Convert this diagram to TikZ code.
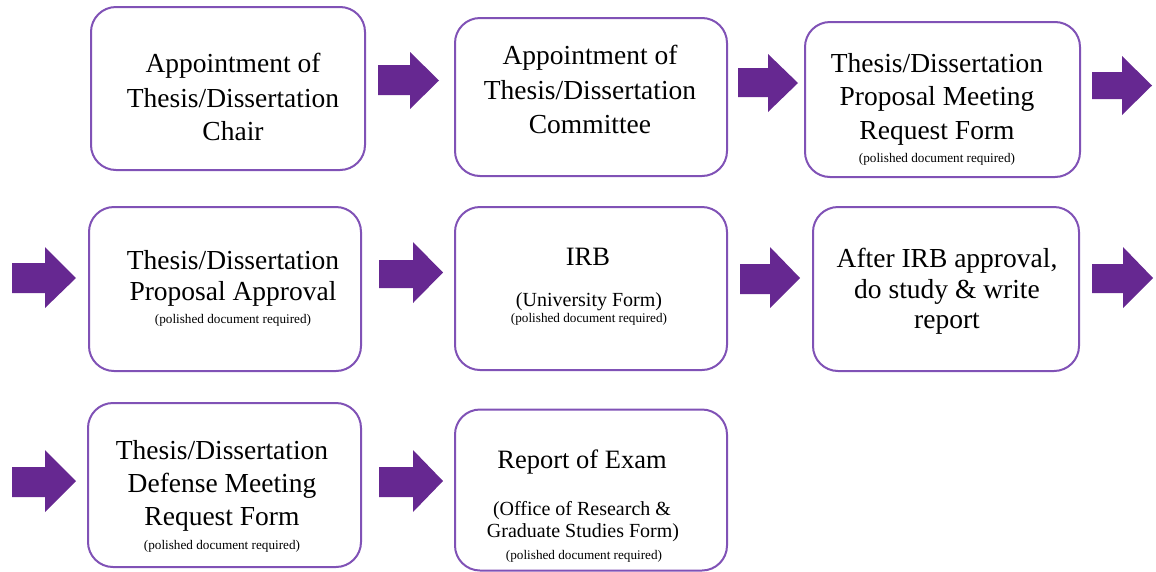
\documentclass[tikz,border=0pt]{standalone}
\usepackage{fontspec}
\setmainfont{Liberation Serif}
\definecolor{arrowpurple}{RGB}{102,40,145}
\definecolor{boxpurple}{RGB}{128,82,182}
\tikzset{
  box/.style={draw=boxpurple, line width=2pt, rounded corners=25pt, fill=white,
    inner sep=0pt, minimum width=#1},
  barrow/.style={fill=arrowpurple, draw=none},
  big/.style={anchor=base, inner sep=0pt, font=\fontsize{27.5}{33}\selectfont},
  mid/.style={anchor=base, inner sep=0pt, font=\fontsize{20}{24}\selectfont},
  tiny/.style={anchor=base, inner sep=0pt, font=\fontsize{13.2}{15}\selectfont},
}
\begin{document}
\begin{tikzpicture}[x=1pt,y=-1pt]
\useasboundingbox (0,0) rectangle (1156,571);
% boxes
\node[box=274pt, minimum height=163pt] (b1) at (228,88.5) {};
\node[box=272pt, minimum height=158pt] (b2) at (591,97) {};
\node[box=275pt, minimum height=155pt] (b3) at (942.5,99.5) {};
\node[box=272pt, minimum height=164pt] (b4) at (225,289) {};
\node[box=272pt, minimum height=163pt] (b5) at (591,288.5) {};
\node[box=266pt, minimum height=164pt] (b6) at (946,289) {};
\node[box=273pt, minimum height=164pt] (b7) at (224.5,485) {};
\node[box=272pt, minimum height=161pt] (b8) at (591,490) {};
% texts box 1
\node[big] (t1a) at (233,72) {Appointment of};
\node[big] (t1b) at (233,107) {Thesis/Dissertation};
\node[big] (t1c) at (233,140) {Chair};
% box 2
\node[big] (t2a) at (590,64) {Appointment of};
\node[big] (t2b) at (590,99) {Thesis/Dissertation};
\node[big] (t2c) at (590,133) {Committee};
% box 3
\node[big] (t3a) at (937,72) {Thesis/Dissertation};
\node[big] (t3b) at (937,105) {Proposal Meeting};
\node[big] (t3c) at (937,139) {Request Form};
\node[tiny] (t3d) at (937,162) {(polished document required)};
% box 4
\node[big] (t4a) at (233,269) {Thesis/Dissertation};
\node[big] (t4b) at (233,300) {Proposal Approval};
\node[tiny] (t4c) at (233,323) {(polished document required)};
% box 5
\node[big, font=\fontsize{26.5}{32}\selectfont] (t5a) at (588,265) {IRB};
\node[mid] (t5b) at (589,306) {(University Form)};
\node[tiny] (t5c) at (589,322) {(polished document required)};
% box 6
\node[big] (t6a) at (947,267) {After IRB approval,};
\node[big] (t6b) at (947,298) {do study \& write};
\node[big] (t6c) at (947,328) {report};
% box 7
\node[big] (t7a) at (222,459) {Thesis/Dissertation};
\node[big] (t7b) at (222,492) {Defense Meeting};
\node[big] (t7c) at (222,525) {Request Form};
\node[tiny] (t7d) at (222,549) {(polished document required)};
% box 8
\node[big, font=\fontsize{26.5}{32}\selectfont] (t8a) at (582,468) {Report of Exam};
\node[mid] (t8b) at (582,515) {(Office of Research \&};
\node[mid] (t8c) at (583,537) {Graduate Studies Form)};
\node[tiny] (t8d) at (584,559) {(polished document required)};
% block arrows
\fill[barrow] (378,65) -- (410,65) -- (410,52) -- (439,80.5) -- (410,109) -- (410,95) -- (378,95) -- cycle;
\fill[barrow] (738,68) -- (768,68) -- (768,54) -- (798,83) -- (768,112) -- (768,97) -- (738,97) -- cycle;
\fill[barrow] (1092,72) -- (1122,72) -- (1122,56) -- (1152,85.5) -- (1122,115) -- (1122,99) -- (1092,99) -- cycle;
\fill[barrow] (12,263) -- (45,263) -- (45,247) -- (76,278) -- (45,308) -- (45,293) -- (12,293) -- cycle;
\fill[barrow] (379,260) -- (413,260) -- (413,242) -- (443,272.5) -- (413,303) -- (413,288) -- (379,288) -- cycle;
\fill[barrow] (740,264) -- (770,264) -- (770,247) -- (800,278) -- (770,308) -- (770,294) -- (740,294) -- cycle;
\fill[barrow] (1092,264) -- (1123,264) -- (1123,247) -- (1153,278) -- (1123,308) -- (1123,293) -- (1092,293) -- cycle;
\fill[barrow] (12,467) -- (45,467) -- (45,450) -- (76,481) -- (45,512) -- (45,497) -- (12,497) -- cycle;
\fill[barrow] (379,467) -- (413,467) -- (413,450) -- (443,481) -- (413,512) -- (413,497) -- (379,497) -- cycle;
\end{tikzpicture}
\end{document}
